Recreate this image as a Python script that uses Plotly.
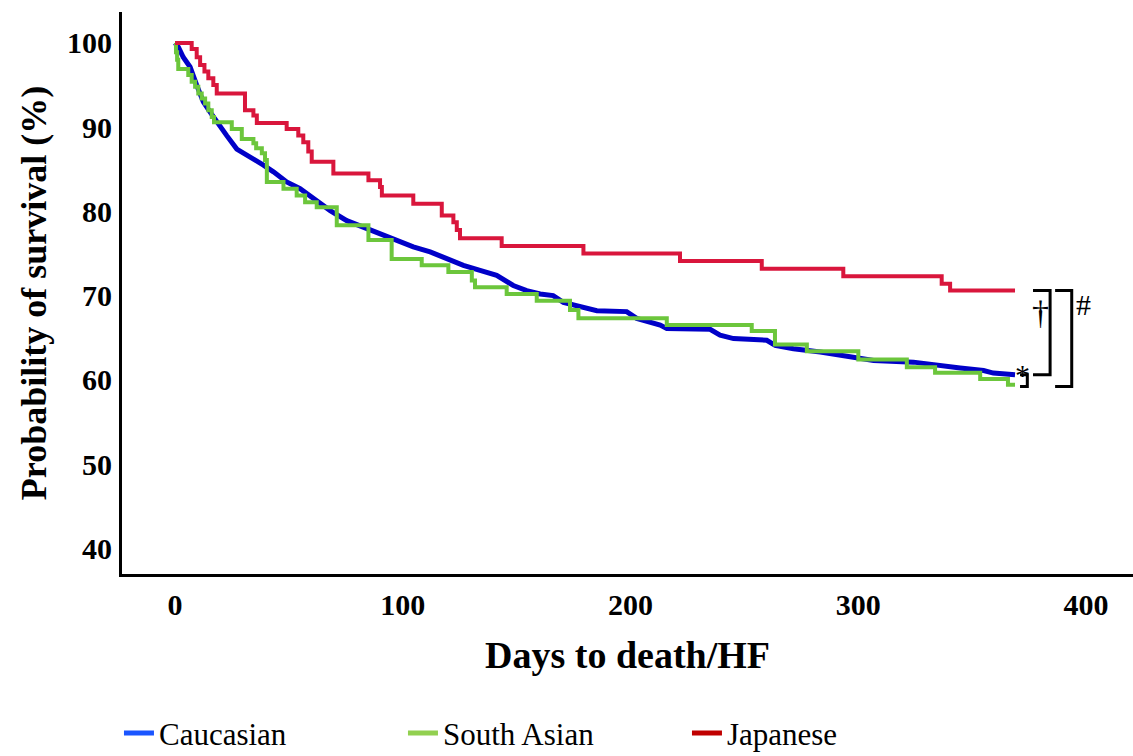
import plotly.graph_objects as go

# ---------------- data ----------------
days_caucasian = [0, 1.45, 3.6, 6.6, 9.5, 12.4, 15.4, 19.8, 22.7, 27.1, 32.9, 38.8, 43.2, 49.0, 54.9,
                  60.7, 68.1, 75.4, 82.7, 90.0, 97.3, 104.6, 112.0, 119.3, 126.6, 133.9, 141.2, 148.5,
                  154.4, 160.3, 166.0, 170.5, 180.8, 185.2, 198.3, 202.7, 213.0, 215.9, 234.9, 239.3,
                  245.2, 259.8, 263.5, 271.5, 283.3, 293.5, 306.7, 324.2, 334.5, 344.7, 355.0, 359.3, 368.8]
surv_caucasian = [100, 99.5, 98.3, 97.15, 95.0, 93.0, 91.8, 90.0, 89.0, 87.4, 86.5, 85.5, 84.7, 83.5, 82.7,
                  81.5, 80.1, 78.9, 78.1, 77.35, 76.55, 75.8, 75.2, 74.4, 73.6, 73.0, 72.4, 71.2,
                  70.6, 70.2, 70.0, 69.2, 68.6, 68.2, 68.1, 67.3, 66.5, 66.1, 66.0, 65.3,
                  64.9, 64.7, 64.1, 63.7, 63.3, 62.9, 62.3, 62.1, 61.7, 61.4, 61.1, 60.8, 60.6]

days_south_asian = [0, 0.4, 0.9, 1.4, 5.8, 7.3, 8.8, 10.2, 11.7, 13.2, 14.6, 16.1, 17.1, 24.9, 29.3,
                    34.4, 35.6, 38.1, 39.5, 40.3, 47.6, 53.4, 57.1, 62.2, 71.0, 84.9, 95.1, 108.3,
                    120.0, 130.3, 131.7, 145.6, 158.8, 173.4, 177.1, 215.9, 253.2, 263.4, 277.4,
                    300.0, 321.3, 333.7, 353.5, 365.7, 368.8]
surv_south_asian = [100, 98.9, 98.0, 96.9, 96.2, 95.4, 94.8, 94.0, 93.4, 92.8, 92.0, 91.2, 90.6, 89.8, 88.6,
                    88.1, 87.5, 86.9, 86.1, 83.5, 82.7, 81.9, 81.1, 80.5, 78.35, 76.6, 74.35, 73.6,
                    72.8, 71.8, 71.0, 70.2, 69.4, 68.3, 67.3, 66.5, 65.8, 64.2, 63.4,
                    62.4, 61.5, 60.85, 60.1, 59.4, 59.4]

days_japanese = [0, 7.3, 9.5, 11.0, 12.9, 14.6, 16.8, 18.3, 30.7, 34.4, 35.9, 49.0, 54.1, 56.3, 58.5,
                 60.0, 69.5, 84.9, 90.0, 90.8, 104.6, 117.1, 122.2, 123.7, 125.1, 143.4, 179.3,
                 221.7, 257.6, 293.4, 336.6, 340.3, 368.8]
surv_japanese = [100, 99.3, 98.3, 97.4, 96.6, 95.8, 95.0, 94.0, 92.0, 91.4, 90.5, 89.8, 89.0, 88.2, 87.1,
                 85.9, 84.5, 83.7, 82.9, 81.9, 80.9, 79.5, 78.7, 77.8, 76.8, 75.9, 75.0,
                 74.1, 73.2, 72.3, 71.4, 70.6, 70.6]

series_names = ["Caucasian", "South Asian", "Japanese"]
x_ticks = [0, 100, 200, 300, 400]
y_ticks = [40, 50, 60, 70, 80, 90, 100]

# ---------------- styling ----------------
FONT = "Liberation Serif"
line_colors = ["#0000C8", "#6CC63C", "#D9163C"]
legend_colors = ["#1A55FF", "#92D050", "#C00000"]
line_widths = [5, 4, 4]
line_shapes = ["linear", "hv", "hv"]

fig = go.Figure()
all_days = [days_caucasian, days_south_asian, days_japanese]
all_surv = [surv_caucasian, surv_south_asian, surv_japanese]
for name, xs, ys, col, lw, sh in zip(series_names, all_days, all_surv, line_colors, line_widths, line_shapes):
    fig.add_trace(go.Scatter(x=xs, y=ys, mode="lines", line=dict(color=col, width=lw, shape=sh),
                             name=name, showlegend=False, hoverinfo="skip"))
# legend entries (legend swatches use slightly different colours in the reference)
for name, col in zip(series_names, legend_colors):
    fig.add_trace(go.Scatter(x=[None], y=[None], mode="lines", line=dict(color=col, width=5),
                             name=name, showlegend=True))

# ---------------- significance brackets ----------------
jp_end = surv_japanese[-1]
ca_end = surv_caucasian[-1]
sa_end = surv_south_asian[-1]

def bracket(x0, x1, ytop, ybot):
    return dict(type="path", xref="x", yref="y",
                path=f"M {x0},{ytop} L {x1},{ytop} L {x1},{ybot} L {x0},{ybot}",
                line=dict(color="black", width=3))

shapes = [
    bracket(376.7, 384.2, jp_end, ca_end),          # dagger: Japanese vs Caucasian
    bracket(386.4, 393.7, jp_end, sa_end - 0.2),    # hash: Japanese vs South Asian
    bracket(371.0, 374.2, ca_end, sa_end - 0.2),    # asterisk: Caucasian vs South Asian
]
annotations = [
    dict(x=380.0, y=68.0, text="†", showarrow=False, font=dict(family=FONT, size=34, color="black")),
    dict(x=399.0, y=69.0, text="#", showarrow=False, font=dict(family=FONT, size=30, color="black")),
    dict(x=372.3, y=60.6, text="*", showarrow=False, font=dict(family=FONT, size=30, color="black")),
]

fig.update_layout(
    width=1133, height=756,
    margin=dict(l=122, r=0, t=12, b=182, autoexpand=False),
    paper_bgcolor="white", plot_bgcolor="white",
    font=dict(family=FONT, color="black"),
    shapes=shapes, annotations=annotations,
    showlegend=True,
    legend=dict(orientation="h", xref="container", x=0.105, xanchor="left",
                yref="container", y=0.03, yanchor="middle",
                font=dict(family=FONT, size=31, color="black"),
                entrywidth=239, entrywidthmode="pixels", itemwidth=30,
                bgcolor="rgba(0,0,0,0)", traceorder="normal"),
    xaxis=dict(range=[-23.3, 420.6], tickvals=x_ticks, ticktext=[str(t) for t in x_ticks],
               showgrid=False, zeroline=False, showline=True, linecolor="black", linewidth=3,
               ticks="", ticklabelstandoff=2, automargin=False,
               tickfont=dict(family=FONT, size=30, color="black", weight="bold"),
               title=dict(text="<b>Days to death/HF</b>", font=dict(family=FONT, size=38, color="black"),
                          standoff=22)),
    yaxis=dict(range=[36.94, 103.68], tickvals=y_ticks, ticktext=[str(t) for t in y_ticks],
               showgrid=False, zeroline=False, showline=True, linecolor="black", linewidth=3,
               ticks="", ticklabelstandoff=1, automargin=False,
               tickfont=dict(family=FONT, size=30, color="black", weight="bold"),
               title=dict(text="<b>Probability of survival (%)</b>",
                          font=dict(family=FONT, size=36, color="black"), standoff=10)),
)

fig.write_html("out.html")
